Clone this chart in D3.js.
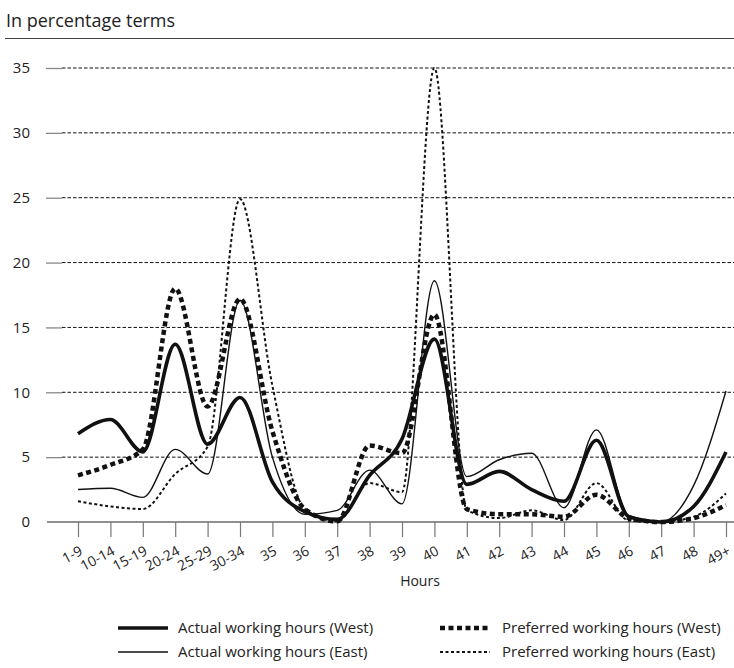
<!DOCTYPE html>
<html>
<head>
<meta charset="utf-8">
<script src="https://cdn.jsdelivr.net/npm/d3@7"></script>
<style>
  body { margin: 0; background: #fff; }
  text { font-family: "Open Sans", sans-serif; fill: #222; }
</style>
</head>
<body>
<div id="chart"></div>
<script>
// Hours categories on the x axis
var categories = ["1-9", "10-14", "15-19", "20-24", "25-29", "30-34", "35", "36", "37", "38",
  "39", "40", "41", "42", "43", "44", "45", "46", "47", "48", "49+"];

// Shares in percent
var actualWest = [6.8, 7.9, 5.4, 13.7, 6.0, 9.6, 3.1, 0.8, 0.2, 3.6, 6.4, 14.1, 2.9, 3.9, 2.5, 1.6, 6.3, 0.4, 0, 1.2, 5.4];
var actualEast = [2.5, 2.6, 1.9, 5.6, 3.7, 17.1, 5.0, 0.6, 0.9, 4.0, 1.4, 18.6, 3.5, 4.8, 5.3, 1.1, 7.1, 0.5, 0, 2.8, 10.1];
var preferredWest = [3.6, 4.4, 5.6, 18.0, 8.9, 17.2, 7.0, 1.0, 0.05, 5.9, 5.3, 16.0, 1.0, 0.6, 0.6, 0.4, 2.1, 0.3, 0, 0.3, 1.3];
var preferredEast = [1.6, 1.2, 1.0, 3.7, 5.8, 24.9, 10.5, 1.0, 0.05, 3.0, 2.3, 35.0, 0.9, 0.3, 0.9, 0.15, 3.0, 0.1, 0, 0.4, 2.2];

var seriesNames = ["Actual working hours (West)", "Actual working hours (East)",
  "Preferred working hours (West)", "Preferred working hours (East)"];
var seriesValues = [actualWest, actualEast, preferredWest, preferredEast];

var yTicks = [0, 5, 10, 15, 20, 25, 30, 35];

// line looks, same order as the series
var lineStyles = [
  { width: 3.6, dash: null },
  { width: 1.4, dash: null },
  { width: 4.5, dash: "5,3.5" },
  { width: 2, dash: "3,2.5" }
];

var svgWidth = 734;
var svgHeight = 668;

var margin = { top: 68, right: 8, bottom: 146, left: 78 };
var width = svgWidth - margin.left - margin.right;
var height = svgHeight - margin.top - margin.bottom;

var svg = d3.select("#chart")
  .append("svg")
  .attr("width", svgWidth)
  .attr("height", svgHeight);

// title and rule under it
svg.append("text")
  .attr("x", 6)
  .attr("y", 27)
  .attr("font-size", "18px")
  .text("In percentage terms");
svg.append("line")
  .attr("x1", 5).attr("x2", svgWidth)
  .attr("y1", 38.5).attr("y2", 38.5)
  .attr("stroke", "#444")
  .attr("stroke-width", 1);

var chartGroup = svg.append("g")
  .attr("transform", `translate(${margin.left}, ${margin.top})`);

var xScale = d3.scalePoint()
  .domain(categories)
  .range([0, width]);

var yScale = d3.scaleLinear()
  .domain([0, 35])
  .range([height, 0]);

// gridlines
chartGroup.selectAll(".grid")
  .data(yTicks.filter(d => d > 0))
  .enter()
  .append("line")
  .attr("class", "grid")
  .attr("x1", -16).attr("x2", svgWidth - margin.left)
  .attr("y1", d => yScale(d)).attr("y2", d => yScale(d))
  .attr("stroke", "#111")
  .attr("stroke-width", 1)
  .attr("stroke-dasharray", "3.5,2");

// left axis: grey stubs + labels
var leftAxis = d3.axisLeft(yScale)
  .tickValues(yTicks)
  .tickSize(0)
  .tickPadding(48);
var yAxisG = chartGroup.append("g").call(leftAxis);
yAxisG.select(".domain").remove();
yAxisG.selectAll("text")
  .attr("font-size", "15px")
  .attr("font-family", "Open Sans, sans-serif")
  .attr("fill", "#222");
yAxisG.selectAll(".tick")
  .filter(d => d > 0)
  .append("line")
  .attr("x1", -32).attr("x2", -16)
  .attr("stroke", "#888")
  .attr("stroke-width", 1.3);

// baseline
chartGroup.append("line")
  .attr("x1", -31).attr("x2", svgWidth - margin.left)
  .attr("y1", height).attr("y2", height)
  .attr("stroke", "#222")
  .attr("stroke-width", 1.2);

// bottom axis
var bottomAxis = d3.axisBottom(xScale).tickSize(15).tickPadding(0);
var xAxisG = chartGroup.append("g")
  .attr("transform", `translate(0, ${height})`)
  .call(bottomAxis);
xAxisG.select(".domain").remove();
xAxisG.selectAll(".tick line").attr("stroke", "#777").attr("stroke-width", 1.2);
xAxisG.selectAll("text")
  .attr("font-size", "14px")
  .attr("font-family", "Open Sans, sans-serif")
  .attr("fill", "#222")
  .attr("text-anchor", "end")
  .attr("dy", null)
  .attr("y", 0)
  .attr("transform", "translate(5, 32) rotate(-28)");

chartGroup.append("text")
  .attr("x", 342)
  .attr("y", 586 - margin.top)
  .attr("text-anchor", "middle")
  .attr("font-size", "14px")
  .text("Hours");

// the lines
var lineGen = d3.line()
  .x((d, i) => xScale(categories[i]))
  .y(d => yScale(d))
  .curve(d3.curveMonotoneX);

seriesValues.forEach(function(values, k) {
  chartGroup.append("path")
    .datum(values)
    .attr("fill", "none")
    .attr("stroke", "#111")
    .attr("stroke-width", lineStyles[k].width)
    .attr("stroke-dasharray", lineStyles[k].dash)
    .attr("stroke-linejoin", "round")
    .attr("d", lineGen);
});

// legend, two columns
var legendX = [118, 440];
var legendY = [628, 652];
seriesNames.forEach(function(name, k) {
  var col = k < 2 ? 0 : 1;
  var row = k % 2;
  var g = svg.append("g")
    .attr("transform", `translate(${legendX[col]}, ${legendY[row]})`);
  g.append("line")
    .attr("x1", 0).attr("x2", 50)
    .attr("stroke", "#111")
    .attr("stroke-width", lineStyles[k].width)
    .attr("stroke-dasharray", lineStyles[k].dash);
  g.append("text")
    .attr("x", col === 0 ? 60 : 62)
    .attr("y", 5)
    .attr("font-size", "15px")
    .text(name);
});
</script>
</body>
</html>
